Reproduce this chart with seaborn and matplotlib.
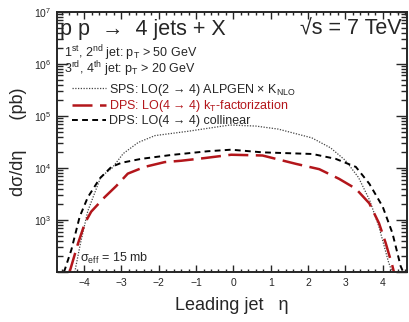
import numpy as np
import pandas as pd
import seaborn as sns
import matplotlib.pyplot as plt
from matplotlib.ticker import MultipleLocator, LogLocator, FixedFormatter, NullFormatter

# -------------------------------
# data (eta, dsigma/deta in pb)
# -------------------------------
sps_eta = [-4.25, -4.1, -3.9, -3.55, -3.25, -2.95, -2.55, -2.1, -1.2, -0.1,
           0.6, 1.2, 2.1, 2.6, 3.0, 3.35, 3.65, 3.9, 4.15, 4.25]
sps_xsec = [1.0e2, 3.5e2, 1.5e3, 6.8e3, 1.0e4, 1.9e4, 3.1e4, 4.2e4, 5.1e4, 6.7e4,
            6.4e4, 5.6e4, 3.8e4, 2.45e4, 1.4e4, 6.6e3, 2.4e3, 7.4e2, 1.6e2, 1.0e2]

kt_eta = [-4.39, -4.16, -3.98, -3.81, -3.45, -3.14, -2.83, -2.38, -1.84, -1.40, -0.78,
          -0.06, 0.78, 1.68, 2.30, 2.83, 3.28, 3.64, 3.90, 4.08, 4.26, 4.30]
kt_xsec = [1.0e2, 3.6e2, 8.7e2, 1.45e3, 2.75e3, 4.5e3, 7.8e3, 1.05e4, 1.3e4, 1.38e4, 1.55e4,
           1.8e4, 1.74e4, 1.2e4, 9.5e3, 6.2e3, 4.0e3, 2.1e3, 8.7e2, 3.6e2, 1.3e2, 1.0e2]

col_eta = [-4.55, -4.52, -4.34, -4.12, -3.90, -3.58, -3.27, -3.00, -2.47, -1.67, -0.69,
           -0.06, 0.78, 2.12, 2.74, 3.28, 3.64, 4.00, 4.26, 4.48, 4.55]
col_xsec = [1.0e2, 1.1e2, 2.7e2, 1.15e3, 2.75e3, 6.3e3, 1.05e4, 1.26e4, 1.5e4, 1.78e4, 2.1e4,
            2.25e4, 2.0e4, 1.86e4, 1.5e4, 1.05e4, 5.0e3, 1.8e3, 5.6e2, 1.3e2, 1.0e2]

ytick_vals = [1e2, 1e3, 1e4, 1e5, 1e6, 1e7]
ytick_text = ["", "10$^{3}$", "10$^{4}$", "10$^{5}$", "10$^{6}$", "10$^{7}$"]

labels = ["SPS: LO(2 → 4) ALPGEN × K$_{NLO}$",
          "DPS: LO(4 → 4) k$_{T}$-factorization",
          "DPS: LO(4 → 4) collinear"]

RED = "#b3161b"

# -------------------------------
# style
# -------------------------------
sns.set_style("ticks")
plt.rcParams["font.family"] = ["Liberation Sans", "DejaVu Sans"]
plt.rcParams["mathtext.fontset"] = "custom"
plt.rcParams["mathtext.rm"] = "Liberation Sans"
plt.rcParams["mathtext.it"] = "Liberation Sans"
plt.rcParams["mathtext.sf"] = "Liberation Sans"
plt.rcParams["mathtext.default"] = "regular"

fig = plt.figure(figsize=(4.09, 3.22), dpi=100)
ax = fig.add_axes([0.139, 0.155, 0.857, 0.808])

df_sps = pd.DataFrame({"eta": sps_eta, "xsec": sps_xsec})
df_kt = pd.DataFrame({"eta": kt_eta, "xsec": kt_xsec})
df_col = pd.DataFrame({"eta": col_eta, "xsec": col_xsec})

sns.lineplot(data=df_sps, x="eta", y="xsec", ax=ax, color="#444444", lw=0.9,
             linestyle=(0, (1, 1.2)), label=labels[0], sort=False)
sns.lineplot(data=df_kt, x="eta", y="xsec", ax=ax, color=RED, lw=1.8,
             linestyle=(0, (8, 3)), label=labels[1], sort=False)
sns.lineplot(data=df_col, x="eta", y="xsec", ax=ax, color="black", lw=1.4,
             linestyle=(0, (3, 2.2)), label=labels[2], sort=False)

ax.set_yscale("log")
ax.set_xlim(-4.73, 4.66)
ax.set_ylim(1e2, 1e7)

ax.xaxis.set_major_locator(MultipleLocator(1))
ax.xaxis.set_minor_locator(MultipleLocator(0.2))
ax.set_yticks(ytick_vals)
ax.yaxis.set_major_formatter(FixedFormatter(ytick_text))
ax.yaxis.set_minor_locator(LogLocator(base=10, subs=np.arange(2, 10), numticks=20))
ax.yaxis.set_minor_formatter(NullFormatter())

ax.tick_params(which="both", direction="in", top=True, right=True, labelsize=7.5, width=1, pad=4)
ax.tick_params(axis="y", which="major", length=8)
ax.tick_params(axis="y", which="minor", length=4)
ax.tick_params(axis="x", which="major", length=5)
ax.tick_params(axis="x", which="minor", length=2.5)
for s in ax.spines.values():
    s.set_linewidth(1.4)

ax.set_xlabel("Leading jet   η", fontsize=13, labelpad=7)
ax.set_ylabel("dσ/dη      (pb)", fontsize=13, labelpad=5)

# text
ax.text(0.01, 0.912, "p p  →  4 jets + X", transform=ax.transAxes, fontsize=15.5)
ax.text(0.985, 0.912, "√s = 7 TeV", transform=ax.transAxes, fontsize=15.5, ha="right")
ax.text(0.02, 0.825, "1$^{st}$, 2$^{nd}$ jet: p$_{T}$ > 50 GeV", transform=ax.transAxes, fontsize=9)
ax.text(0.02, 0.765, "3$^{rd}$, 4$^{th}$ jet: p$_{T}$ > 20 GeV", transform=ax.transAxes, fontsize=9)
ax.text(0.065, 0.04, "σ$_{eff}$ = 15 mb", transform=ax.transAxes, fontsize=9)

leg = ax.legend(loc="upper left", bbox_to_anchor=(0.018, 0.765), frameon=False, fontsize=9,
                handlelength=2.7, handletextpad=0.3, labelspacing=0.05, borderaxespad=0.3)
leg.get_texts()[1].set_color(RED)

fig.savefig("out.png", dpi=100)
